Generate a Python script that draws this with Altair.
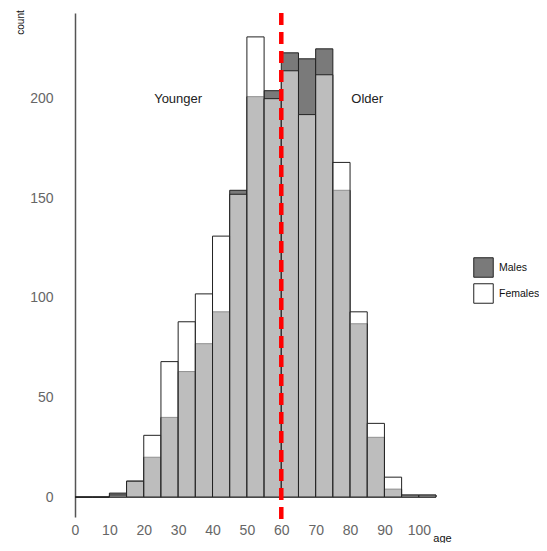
import altair as alt
import pandas as pd

bin_start = [0, 5, 10, 15, 20, 25, 30, 35, 40, 45, 50, 55, 60, 65, 70, 75, 80, 85, 90, 95, 100]
males = [0, 0, 2, 8, 20, 40, 63, 77, 93, 154, 201, 204, 223, 220, 225, 154, 87, 30, 4, 1, 1]
females = [0, 0, 1, 8, 31, 68, 88, 102, 131, 152, 231, 200, 214, 192, 212, 168, 93, 37, 10, 1, 1]
bin_width = 5
cutoff = 60
x_ticks = [0, 10, 20, 30, 40, 50, 60, 70, 80, 90, 100]
y_ticks = [0, 50, 100, 150, 200]
ann_text = ["Younger", "Older"]
ann_x = [30, 85]
ann_y = [200, 200]

rows = []
for s, m, f in zip(bin_start, males, females):
    rows.append({"start": s, "end": s + bin_width, "count": m, "sex": "Males"})
    rows.append({"start": s, "end": s + bin_width, "count": f, "sex": "Females"})
df = pd.DataFrame(rows)

FONT = "Liberation Sans"

xs = alt.Scale(domain=[0, 105], nice=False, zero=False)
ys = alt.Scale(domain=[-10, 243], nice=False, zero=False)
color = alt.Color(
    "sex:N",
    scale=alt.Scale(domain=["Males", "Females"], range=["#7a7a7a", "#ffffff"]),
    legend=alt.Legend(
        title=None, orient="none", legendX=398, legendY=244, padding=0,
        symbolType="square", symbolSize=380, symbolStrokeColor="#222",
        symbolStrokeWidth=1, symbolOpacity=1, rowPadding=1, labelOffset=5,
        labelFontSize=10.5, labelColor="#111", labelFont=FONT,
    ),
)

xaxis = alt.Axis(
    values=x_ticks, tickCount=11, domain=False, ticks=False, grid=False,
    labelOverlap=False, labelFlush=False,
    labelPadding=6, labelFontSize=14, labelColor="#666", labelFont=FONT,
    title="age", titleX=367, titleY=21, titleAlign="center", titleBaseline="middle",
    titleFontSize=11, titleFontWeight="normal", titleColor="#111", titleFont=FONT,
)
yaxis = alt.Axis(
    values=y_ticks, domain=True, domainColor="#555", domainWidth=1.5,
    labelOverlap=False, labelFlush=False,
    ticks=False, grid=False, labelPadding=22, labelFontSize=14, labelColor="#666",
    labelFont=FONT, title="count", titleX=-55, titleY=9, titleAngle=270,
    titleAlign="center", titleBaseline="middle", titleFontSize=10,
    titleFontWeight="normal", titleColor="#111", titleFont=FONT,
)

base = alt.Chart(df)
male_bars = base.transform_filter(alt.datum.sex == "Males").mark_bar(
    stroke="#222", strokeWidth=1, opacity=1
).encode(
    x=alt.X("start:Q", scale=xs, axis=xaxis),
    x2="end:Q",
    y=alt.Y("count:Q", scale=ys, axis=yaxis),
    y2=alt.datum(0),
    color=color,
)
female_bars = base.transform_filter(alt.datum.sex == "Females").mark_bar(
    stroke="#222", strokeWidth=1, fillOpacity=0.5
).encode(
    x=alt.X("start:Q", scale=xs, axis=xaxis),
    x2="end:Q",
    y=alt.Y("count:Q", scale=ys, axis=yaxis),
    y2=alt.datum(0),
    color=color,
)

rule = alt.Chart(pd.DataFrame({"x": [cutoff]})).mark_rule(
    color="#ff0000", strokeWidth=4.5, strokeDash=[12, 7]
).encode(
    x=alt.X("x:Q", scale=xs, axis=xaxis),
    y=alt.datum(243),
    y2=alt.datum(-11.5),
)

ann = alt.Chart(pd.DataFrame({"t": ann_text, "x": ann_x, "y": ann_y})).mark_text(
    fontSize=13, font=FONT, color="#222"
).encode(
    x=alt.X("x:Q", scale=xs, axis=xaxis),
    y=alt.Y("y:Q", scale=ys, axis=yaxis),
    text="t:N",
)

chart = alt.layer(male_bars, female_bars, rule, ann).properties(
    width=361, height=504,
    autosize="none",
    padding={"left": 67, "top": 5, "right": 103, "bottom": 26},
).configure_view(stroke=None)

chart.save("out.html", embed_options={"renderer": "svg", "actions": False})
